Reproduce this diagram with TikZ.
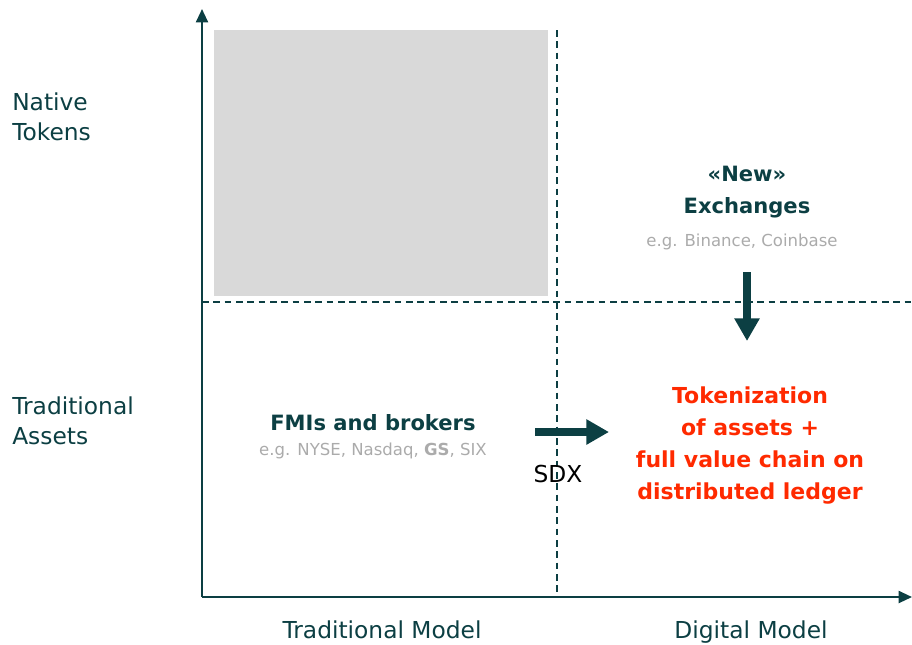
\documentclass[tikz,border=0pt]{standalone}
\usepackage{fontspec}
\setmainfont{DejaVu Sans}
\usetikzlibrary{arrows.meta}
\definecolor{darkteal}{HTML}{0C3F43}
\definecolor{hintgray}{HTML}{ABABAB}
\definecolor{boxgray}{HTML}{D9D9D9}
\definecolor{tokenred}{HTML}{FF2A00}
\tikzset{
  axis/.style={draw=darkteal, line width=1.5pt, -{Triangle[length=10pt,width=9pt]}},
  divider/.style={draw=darkteal, line width=1.5pt, dash pattern=on 5pt off 3.5pt},
  move/.style={draw=darkteal, line width=5.5pt, -{Triangle[length=17pt,width=18pt]}},
  axislabel/.style={text=darkteal, font=\fontsize{17.5}{22.5}\selectfont, align=left, inner sep=0pt},
  title/.style={text=darkteal, font=\fontsize{15.8}{24}\selectfont\bfseries, align=center, inner sep=0pt},
  hint/.style={text=hintgray, font=\fontsize{12.4}{14}\selectfont, inner sep=0pt},
  target/.style={text=tokenred, font=\fontsize{16.5}{24}\selectfont\bfseries, align=center, inner sep=0pt}
}
\begin{document}
\begin{tikzpicture}[x=0.75pt,y=-0.75pt]
  \useasboundingbox (0,0) rectangle (912,644);
  % quadrant that stays empty
  \fill[boxgray] (214,30) rectangle (548,296);
  % axes
  \coordinate (origin) at (202,597);
  \coordinate (ytip) at (202,9);
  \coordinate (xtip) at (912,597);
  \draw[axis] (origin) -- (ytip);
  \draw[axis] (origin) -- (xtip);
  % dashed dividers
  \coordinate (vtop) at (557,30);
  \coordinate (vbot) at (557,597);
  \coordinate (hleft) at (202,302);
  \coordinate (hright) at (912,302);
  \draw[divider] (vtop) -- (vbot);
  \draw[divider] (hleft) -- (hright);
  % axis labels
  \node[axislabel, anchor=west] (native) at (12,117) {Native\\Tokens};
  \node[axislabel, anchor=west] (trad) at (12,421) {Traditional\\Assets};
  \node[axislabel, anchor=base] (tradmodel) at (382,638) {Traditional Model};
  \node[axislabel, anchor=base] (digmodel) at (751,638) {Digital Model};
  % quadrant texts
  \node[title] (exchanges) at (747,192) {«New»\\Exchanges};
  \node[hint] (exhint) at (742,242) {e.g. Binance, Coinbase};
  \node[title] (fmi) at (373,423) {FMIs and brokers};
  \node[hint] (fmihint) at (373,451) {e.g. NYSE, Nasdaq, \textbf{GS}, SIX};
  \node[axislabel, text=black] (sdx) at (558,474) {SDX};
  \node[target] (token) at (750,446) {Tokenization\\of assets +\\full value chain on\\distributed ledger};
  % moves towards tokenization
  \coordinate (downfrom) at (747,272);
  \coordinate (downto) at (747,341);
  \coordinate (rightfrom) at (535,432);
  \coordinate (rightto) at (609,432);
  \draw[move] (downfrom) -- (downto);
  \draw[move] (rightfrom) -- (rightto);
\end{tikzpicture}
\end{document}
